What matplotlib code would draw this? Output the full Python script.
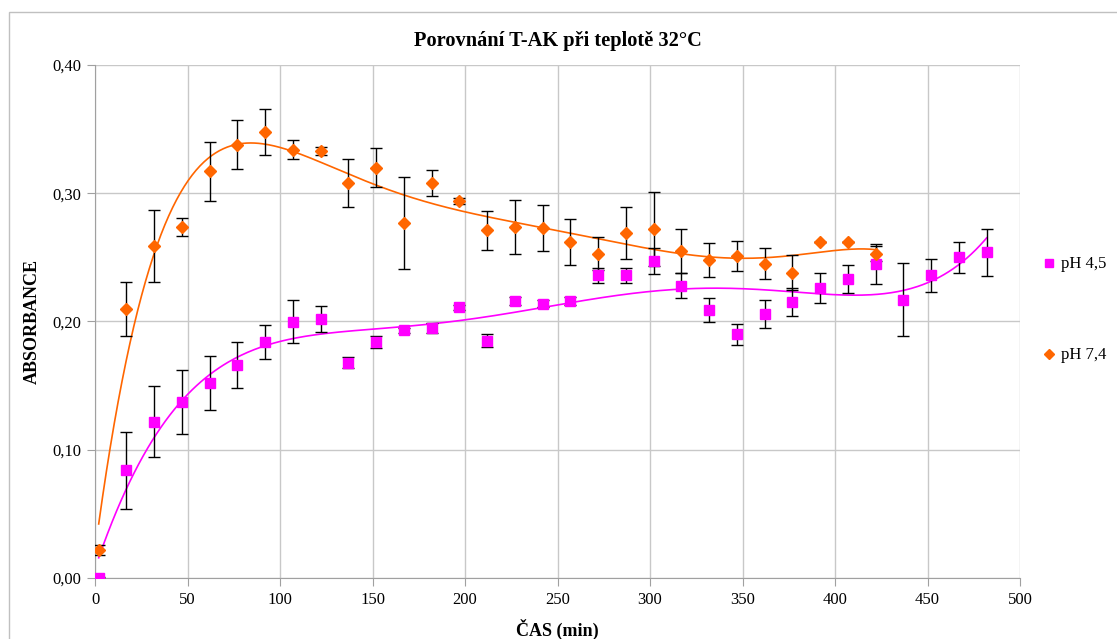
import numpy as np
import matplotlib
matplotlib.use("Agg")
import matplotlib.pyplot as plt
from matplotlib.patches import Rectangle
from matplotlib.ticker import FuncFormatter, MultipleLocator

# ---- data ----
time_ph45 = [2, 17, 32, 47, 62, 77, 92, 107, 122, 137, 152, 167, 182, 197, 212, 227, 242,
             257, 272, 287, 302, 317, 332, 347, 362, 377, 392, 407, 422, 437, 452, 467, 482]
abs_ph45 = [0.000, 0.084, 0.122, 0.137, 0.152, 0.166, 0.184, 0.200, 0.202, 0.168, 0.184,
            0.193, 0.195, 0.211, 0.185, 0.216, 0.214, 0.216, 0.236, 0.236, 0.247, 0.228,
            0.209, 0.190, 0.206, 0.215, 0.226, 0.233, 0.245, 0.217, 0.236, 0.250, 0.254]
err_ph45 = [0.001, 0.030, 0.028, 0.025, 0.021, 0.018, 0.013, 0.017, 0.010, 0.004, 0.005,
            0.002, 0.004, 0.002, 0.005, 0.003, 0.003, 0.003, 0.006, 0.006, 0.010, 0.010,
            0.0095, 0.008, 0.011, 0.011, 0.0115, 0.011, 0.0155, 0.0285, 0.013, 0.012, 0.0185]

time_ph74 = [2, 17, 32, 47, 62, 77, 92, 107, 122, 137, 152, 167, 182, 197, 212, 227, 242,
             257, 272, 287, 302, 317, 332, 347, 362, 377, 392, 407, 422]
abs_ph74 = [0.022, 0.210, 0.259, 0.274, 0.317, 0.338, 0.348, 0.334, 0.333, 0.308, 0.320,
            0.277, 0.308, 0.294, 0.271, 0.274, 0.273, 0.262, 0.253, 0.269, 0.272, 0.255,
            0.248, 0.251, 0.245, 0.238, 0.262, 0.262, 0.253]
err_ph74 = [0.004, 0.021, 0.028, 0.007, 0.023, 0.019, 0.018, 0.0075, 0.003, 0.019, 0.015,
            0.036, 0.010, 0.002, 0.0155, 0.021, 0.018, 0.018, 0.013, 0.020, 0.029, 0.017,
            0.013, 0.012, 0.012, 0.0135, 0.0, 0.0, 0.006]

labels = ["pH 4,5", "pH 7,4"]
colors = ["#FF00FF", "#FF6600"]
trend_orders = [5, 6]
title = "Porovnání T-AK při teplotě 32°C"
xlabel = "ČAS (min)"
ylabel = "ABSORBANCE"

plt.rcParams['font.family'] = ['Liberation Serif', 'DejaVu Serif']

fig = plt.figure(figsize=(11.17, 6.39), dpi=100)
W, H = 1117, 639
ax = fig.add_axes([95 / W, 1 - 578 / H, (1020 - 95) / W, (578 - 65) / H])

# figure border
fig.patches.append(Rectangle((9 / W, -0.1), 1.2, 1 - 12 / H + 0.1, transform=fig.transFigure,
                             fill=False, edgecolor="#c0c0c0", linewidth=1.0))

# error bars
ax.errorbar(time_ph74, abs_ph74, yerr=err_ph74, fmt='none', ecolor='black',
            elinewidth=1.0, capsize=4, capthick=1.0, zorder=3)
ax.errorbar(time_ph45, abs_ph45, yerr=err_ph45, fmt='none', ecolor='black',
            elinewidth=1.0, capsize=4, capthick=1.0, zorder=3)

# polynomial trendlines
for t, a, c, d in [(time_ph45, abs_ph45, colors[0], trend_orders[0]),
                   (time_ph74, abs_ph74, colors[1], trend_orders[1])]:
    p = np.polynomial.Polynomial.fit(t, a, d)
    xs = np.linspace(min(t), max(t), 400)
    ax.plot(xs, p(xs), color=c, linewidth=1.2, zorder=2)

# markers
ax.plot(time_ph45, abs_ph45, linestyle='none', marker='s', markersize=6.5,
        color=colors[0], label=labels[0], zorder=4)
ax.plot(time_ph74, abs_ph74, linestyle='none', marker='D', markersize=6,
        color=colors[1], label=labels[1], zorder=4)

ax.set_xlim(0, 500)
ax.set_ylim(0, 0.40)
ax.xaxis.set_major_locator(MultipleLocator(50))
ax.yaxis.set_major_locator(MultipleLocator(0.10))
ax.yaxis.set_major_formatter(FuncFormatter(lambda v, p: f"{v:.2f}".replace('.', ',')))
ax.grid(True, color="#c8c8c8", linewidth=1.0)
ax.set_axisbelow(True)
for s in ['top', 'right']:
    ax.spines[s].set_visible(False)
for s in ['left', 'bottom']:
    ax.spines[s].set_color("#a0a0a0")
ax.tick_params(axis='both', direction='out', length=6, color="#a0a0a0",
               labelsize=12, pad=4)

ax.set_title(title, fontsize=14.7, fontweight='bold', pad=14)
ax.set_xlabel(xlabel, fontsize=13, fontweight='bold', labelpad=8)
ax.set_ylabel(ylabel, fontsize=13, fontweight='bold', labelpad=8)

leg = ax.legend(loc='upper left', bbox_to_anchor=(1.01, 0.656), frameon=False,
                fontsize=12, handlelength=0.6, handletextpad=0.4, labelspacing=4.5,
                markerscale=0.8)

fig.savefig("out.png", dpi=100)
